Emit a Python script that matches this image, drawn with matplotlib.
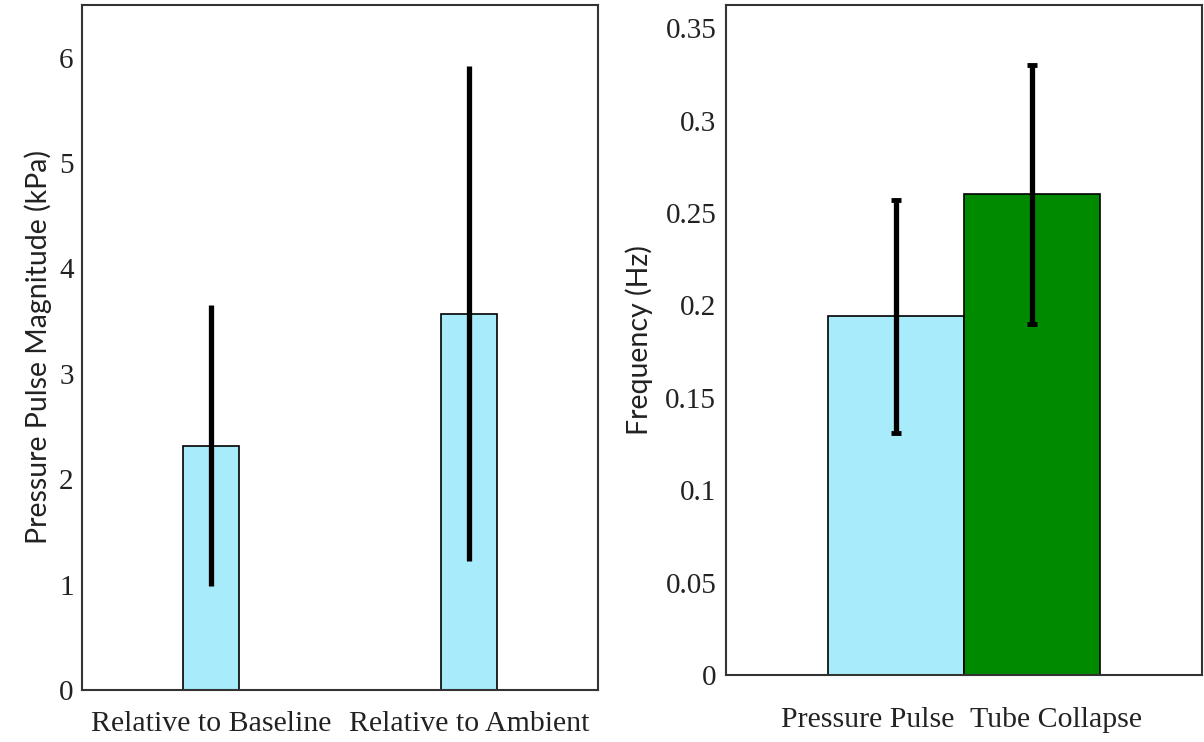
import matplotlib
matplotlib.use("Agg")
import matplotlib.pyplot as plt

# left panel: pressure pulse magnitude
mag_labels = ["Relative to Baseline", "Relative to Ambient"]
mag_values = [2.32, 3.57]
mag_errors = [1.33, 2.35]

# right panel: frequency
freq_labels = ["Pressure Pulse", "Tube Collapse"]
freq_values = [0.194, 0.260]
freq_errors = [0.063, 0.070]

light_blue = "#a8ecfb"
green = "#008a00"
frame = "#333333"

serif = ["Liberation Serif", "DejaVu Serif"]
sans = ["Lato", "DejaVu Sans"]

fig = plt.figure(figsize=(12.04, 7.42), dpi=100)
ax1 = fig.add_axes([82 / 1204, 52 / 742, 516 / 1204, 685 / 742])
ax2 = fig.add_axes([726 / 1204, 67 / 742, 476 / 1204, 670 / 742])


def style(ax):
    for s in ax.spines.values():
        s.set_color(frame)
        s.set_linewidth(1.5)
    ax.tick_params(length=0)
    for t in ax.get_yticklabels():
        t.set_fontfamily(serif)
        t.set_fontsize(21)
        t.set_color("#222222")
    for t in ax.get_xticklabels():
        t.set_fontfamily(serif)
        t.set_fontsize(21.5)
        t.set_color("#222222")


# pressure magnitude bars, error bars without caps
x1 = list(range(len(mag_values)))
ax1.bar(x1, mag_values, width=0.22, color=light_blue, edgecolor="black", linewidth=1.2, zorder=2)
ax1.errorbar(x1, mag_values, yerr=mag_errors, fmt="none", ecolor="black", elinewidth=3.8, capsize=0, zorder=3)
ax1.set_xlim(-0.5, 1.5)
ax1.set_ylim(0, 6.5)
ax1.set_yticks([0, 1, 2, 3, 4, 5, 6])
ax1.set_yticklabels(["0", "1", "2", "3", "4", "5", "6"])
ax1.set_xticks(x1)
ax1.set_xticklabels(mag_labels)
ax1.set_ylabel("Pressure Pulse Magnitude (kPa)", fontfamily=sans, fontsize=20.5, color="#222222", labelpad=5)
style(ax1)
ax1.tick_params(axis="x", pad=15)
ax1.tick_params(axis="y", pad=6)

# frequency bars, touching, with small caps
x2 = list(range(len(freq_values)))
ax2.bar(x2, freq_values, width=1.0, color=[light_blue, green], edgecolor="black", linewidth=1.2, zorder=2)
ax2.errorbar(x2, freq_values, yerr=freq_errors, fmt="none", ecolor="black", elinewidth=3.8,
             capsize=3.5, capthick=3.5, zorder=3)
ax2.set_xlim(-1.25, 2.25)
ax2.set_ylim(0, 0.3625)
ax2.set_yticks([0, 0.05, 0.1, 0.15, 0.2, 0.25, 0.3, 0.35])
ax2.set_yticklabels(["0", "0.05", "0.1", "0.15", "0.2", "0.25", "0.3", "0.35"])
# labels sit slightly apart from the bar centres in the original
ax2.set_xticks([-0.21, 1.18])
ax2.set_xticklabels(freq_labels)
ax2.set_ylabel("Frequency (Hz)", fontfamily=sans, fontsize=20.5, color="#222222", labelpad=8.5)
style(ax2)
ax2.tick_params(axis="x", pad=23)
ax2.tick_params(axis="y", pad=7)

fig.savefig("out.png", dpi=100)
